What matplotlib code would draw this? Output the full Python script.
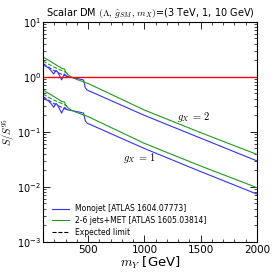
import matplotlib
matplotlib.use("Agg")
import matplotlib.pyplot as plt
from matplotlib.ticker import LogLocator, MultipleLocator, NullFormatter

plt.rcParams['mathtext.fontset'] = 'cm'

# mediator mass [GeV]
m_obs = [100, 150, 180, 195, 215, 228, 265, 290, 310, 350, 420, 460, 475, 490, 1000, 1500, 2000]
# g_X = 2, monojet observed
mono_g2 = [1.65, 1.46, 1.23, 1.13, 1.32, 1.25, 0.885, 1.13, 1.02, 0.98, 0.92, 0.88, 0.64, 0.58, 0.20, 0.077, 0.0297]
# g_X = 2, 2-6 jets observed
jets_m = [100, 160, 224, 270, 290, 300, 320, 350, 400, 500, 1000, 1500, 2000]
jets_g2 = [2.3, 1.95, 1.62, 1.42, 1.40, 1.25, 1.1, 1.0, 0.9, 0.76, 0.25, 0.097, 0.039]
# g_X = 1
mono_g1 = [0.41, 0.365, 0.31, 0.28, 0.33, 0.31, 0.22, 0.28, 0.255, 0.245, 0.23, 0.22, 0.16, 0.145, 0.05, 0.019, 0.0074]
jets_g1 = [0.575, 0.49, 0.405, 0.355, 0.35, 0.31, 0.275, 0.25, 0.225, 0.19, 0.062, 0.024, 0.0097]
# expected limits (dashed)
exp_m = [100, 150, 200, 250, 300, 330]
mono_exp_g2 = [1.75, 1.5, 1.3, 1.15, 1.05, 1.0]
jets_exp_g2 = [1.95, 1.7, 1.5, 1.35, 1.22, 1.1]
mono_exp_g1 = [0.44, 0.375, 0.325, 0.29, 0.26, 0.25]
jets_exp_g1 = [0.49, 0.425, 0.375, 0.34, 0.305, 0.275]

blue = '#3333ee'
green = '#229922'

fig = plt.figure(figsize=(2.74, 2.74), dpi=100)
ax = fig.add_axes([0.157, 0.117, 0.781, 0.803])

ax.plot(m_obs, mono_g2, color=blue, lw=0.8, label='Monojet [ATLAS 1604.07773]')
ax.plot(jets_m, jets_g2, color=green, lw=0.8, label='2-6 jets+MET [ATLAS 1605.03814]')
ax.plot(m_obs, mono_g1, color=blue, lw=0.8)
ax.plot(jets_m, jets_g1, color=green, lw=0.8)
ax.plot(exp_m, mono_exp_g2, color=blue, lw=0.8, ls='--')
ax.plot(exp_m, jets_exp_g2, color=green, lw=0.8, ls='--')
ax.plot(exp_m, mono_exp_g1, color=blue, lw=0.8, ls='--')
ax.plot(exp_m, jets_exp_g1, color=green, lw=0.8, ls='--')
ax.plot([], [], color='black', lw=0.8, ls='--', label='Expected limit')
ax.axhline(1.0, color='red', lw=1.0)

ax.set_yscale('log')
ax.set_xlim(100, 2000)
ax.set_ylim(1e-3, 1e1)
ax.xaxis.set_major_locator(MultipleLocator(500))
ax.xaxis.set_minor_locator(MultipleLocator(100))
ax.yaxis.set_major_locator(LogLocator(base=10, numticks=10))
ax.yaxis.set_minor_locator(LogLocator(base=10, subs=range(2, 10), numticks=20))
ax.yaxis.set_minor_formatter(NullFormatter())
ax.tick_params(which='both', direction='in', top=True, right=True)
ax.tick_params(axis='x', labelsize=7.5, pad=2)
ax.tick_params(axis='y', labelsize=7, pad=1.5)
ax.tick_params(which='major', length=5, width=0.6)
ax.tick_params(which='minor', length=2.5, width=0.5)
for s in ax.spines.values():
    s.set_linewidth(0.8)

ax.set_title(r'Scalar DM $(\Lambda,\,\hat{g}_{SM},\,m_X)$=(3 TeV, 1, 10 GeV)', fontsize=7, pad=4)
ax.set_xlabel(r'$m_Y$ [GeV]', fontsize=9.5, labelpad=0)
ax.set_ylabel(r'$S/S^{95}$', fontsize=7.5)
ax.yaxis.set_label_coords(-0.12, 0.5)

ax.text(1290, 0.19, r'$g_X\,=\,2$', fontsize=7.5, va='center')
ax.text(810, 0.034, r'$g_X\,=\,1$', fontsize=7.5, va='center')

ax.legend(loc='lower left', frameon=False, fontsize=5.5, handlelength=2.2,
          borderaxespad=0.0, labelspacing=0.35, bbox_to_anchor=(0.03, 0.01))

fig.savefig('out.png', dpi=100)
